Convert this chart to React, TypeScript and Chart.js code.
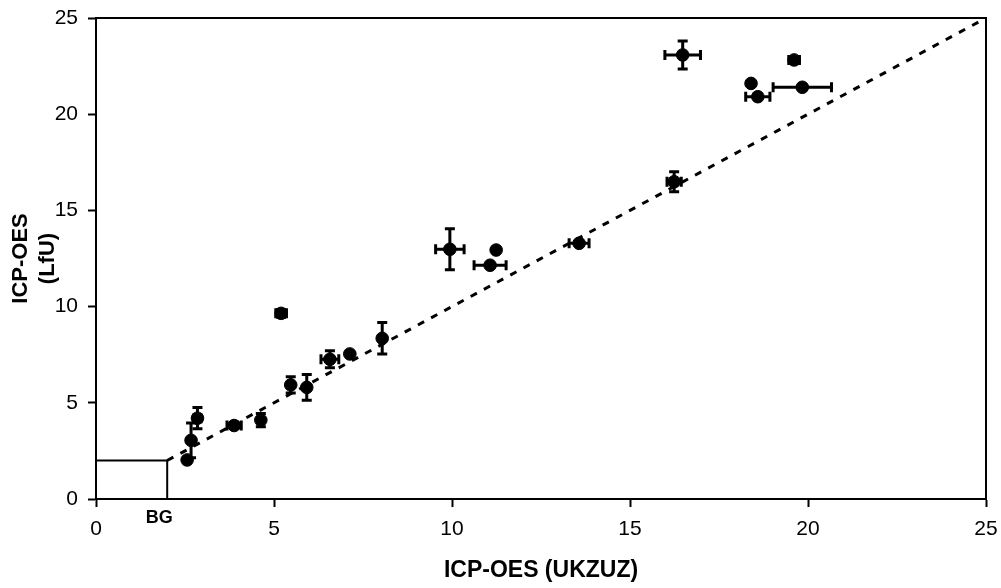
import React, { useEffect, useRef } from "react";
import { Chart, registerables } from "chart.js";

Chart.register(...registerables);

// Measured samples: UKZUZ (x) vs LfU (y), with error estimates
const xValues = [2.56, 2.67, 2.85, 3.88, 4.63, 5.2, 5.47, 5.92, 6.57, 7.13, 8.04, 9.94, 11.24, 11.07, 13.57, 16.24, 16.48, 19.61, 18.4, 18.59, 19.84];
const yValues = [2.03, 3.05, 4.2, 3.82, 4.1, 9.65, 5.93, 5.8, 7.26, 7.54, 8.35, 12.98, 12.94, 12.15, 13.29, 16.49, 23.08, 22.82, 21.6, 20.91, 21.4];
const xErrors = [0, 0, 0.1, 0.2, 0, 0.15, 0, 0, 0.25, 0, 0, 0.4, 0, 0.45, 0.28, 0.2, 0.5, 0.15, 0, 0.34, 0.82];
const yErrors = [0, 0.9, 0.55, 0.15, 0.35, 0.2, 0.42, 0.67, 0.44, 0, 0.82, 1.07, 0, 0, 0, 0.52, 0.73, 0.15, 0, 0, 0];

const oneToOneX = [2, 25];
const oneToOneY = [2, 25];
const bgBoxX = [0, 2, 2];
const bgBoxY = [2, 2, 0];
const bgLabel = "BG";
const bgLabelX = 1.78;

const axisTicks = [0, 5, 10, 15, 20, 25];
const xTitle = "ICP-OES (UKZUZ)";
const yTitle = ["ICP-OES", "(LfU)"];

const FONT = "'Liberation Sans', Arial, sans-serif";

const errorBarPlugin = {
  id: "errorBars",
  afterDatasetsDraw(chart: any) {
    const { ctx, scales } = chart;
    const xs = scales.x;
    const ys = scales.y;
    const cap = 5;
    ctx.save();
    ctx.strokeStyle = "#000";
    ctx.lineWidth = 3;
    ctx.lineCap = "butt";
    for (let i = 0; i < xValues.length; i++) {
      const px = xs.getPixelForValue(xValues[i]);
      const py = ys.getPixelForValue(yValues[i]);
      if (yErrors[i] > 0) {
        const t = ys.getPixelForValue(yValues[i] + yErrors[i]);
        const b = ys.getPixelForValue(yValues[i] - yErrors[i]);
        ctx.beginPath();
        ctx.moveTo(px, t);
        ctx.lineTo(px, b);
        ctx.moveTo(px - cap, t);
        ctx.lineTo(px + cap, t);
        ctx.moveTo(px - cap, b);
        ctx.lineTo(px + cap, b);
        ctx.stroke();
      }
      if (xErrors[i] > 0) {
        const l = xs.getPixelForValue(xValues[i] - xErrors[i]);
        const r = xs.getPixelForValue(xValues[i] + xErrors[i]);
        ctx.beginPath();
        ctx.moveTo(l, py);
        ctx.lineTo(r, py);
        ctx.moveTo(l, py - cap);
        ctx.lineTo(l, py + cap);
        ctx.moveTo(r, py - cap);
        ctx.lineTo(r, py + cap);
        ctx.stroke();
      }
    }
    ctx.restore();
  },
  afterDraw(chart: any) {
    const { ctx, chartArea, scales } = chart;
    ctx.save();
    // top and right frame
    ctx.strokeStyle = "#000";
    ctx.lineWidth = 2;
    ctx.beginPath();
    ctx.moveTo(chartArea.left, chartArea.top);
    ctx.lineTo(chartArea.right, chartArea.top);
    ctx.lineTo(chartArea.right, chartArea.bottom);
    ctx.stroke();
    // BG label
    ctx.fillStyle = "#000";
    ctx.font = `bold 18px ${FONT}`;
    ctx.textAlign = "center";
    ctx.textBaseline = "middle";
    ctx.fillText(bgLabel, scales.x.getPixelForValue(bgLabelX), chartArea.bottom + 19);
    ctx.restore();
  },
};

export default function App() {
  const canvasRef = useRef<HTMLCanvasElement | null>(null);

  useEffect(() => {
    if (!canvasRef.current) return;
    const points = xValues.map((x, i) => ({ x, y: yValues[i] }));
    const chart = new Chart(canvasRef.current, {
      type: "scatter",
      data: {
        datasets: [
          {
            type: "line",
            data: bgBoxX.map((x, i) => ({ x, y: bgBoxY[i] })),
            borderColor: "#000",
            borderWidth: 2,
            pointRadius: 0,
            fill: false,
            tension: 0,
          } as any,
          {
            type: "line",
            data: oneToOneX.map((x, i) => ({ x, y: oneToOneY[i] })),
            borderColor: "#000",
            borderWidth: 3,
            borderDash: [7, 8],
            pointRadius: 0,
            fill: false,
            tension: 0,
          } as any,
          {
            data: points,
            backgroundColor: "#000",
            borderColor: "#000",
            pointRadius: 6.3,
            pointHoverRadius: 6.3,
          },
        ],
      },
      options: {
        animation: false,
        responsive: false,
        maintainAspectRatio: false,
        layout: { padding: { left: 0, top: 18, right: 15, bottom: 0 } },
        plugins: { legend: { display: false }, tooltip: { enabled: false } },
        scales: {
          x: {
            type: "linear",
            min: 0,
            max: 25,
            afterBuildTicks: (scale: any) => {
              scale.ticks = axisTicks.map((v) => ({ value: v }));
            },
            afterFit: (scale: any) => {
              scale.height = 89;
              scale.paddingLeft = 0;
              scale.paddingRight = 0;
            },
            ticks: {
              color: "#000",
              font: { family: FONT, size: 21 },
              padding: 10,
              maxRotation: 0,
            },
            grid: {
              display: true,
              drawOnChartArea: false,
              drawTicks: true,
              tickLength: 8,
              tickWidth: 2,
              tickColor: "#000",
            },
            border: { display: true, color: "#000", width: 2 },
            title: {
              display: true,
              text: xTitle,
              color: "#000",
              font: { family: FONT, size: 23, weight: "bold" },
              padding: { top: 0, bottom: 4 },
            },
          },
          y: {
            type: "linear",
            min: 0,
            max: 25,
            afterBuildTicks: (scale: any) => {
              scale.ticks = axisTicks.map((v) => ({ value: v }));
            },
            afterFit: (scale: any) => {
              scale.width = 96;
              scale.paddingTop = 0;
              scale.paddingBottom = 0;
            },
            ticks: {
              color: "#000",
              font: { family: FONT, size: 21 },
              padding: 10,
            },
            grid: {
              display: true,
              drawOnChartArea: false,
              drawTicks: true,
              tickLength: 8,
              tickWidth: 2,
              tickColor: "#000",
            },
            border: { display: true, color: "#000", width: 2 },
            title: {
              display: true,
              text: yTitle,
              color: "#000",
              font: { family: FONT, size: 22, weight: "bold", lineHeight: 1.2 },
              padding: { top: 8, bottom: 0 },
            },
          },
        },
      },
      plugins: [errorBarPlugin],
    });
    return () => chart.destroy();
  }, []);

  return (
    <div style={{ position: "fixed", left: 0, top: 0, width: 1001, height: 588, background: "#fff" }}>
      <canvas ref={canvasRef} width={1001} height={588} style={{ display: "block", width: 1001, height: 588 }} />
    </div>
  );
}
